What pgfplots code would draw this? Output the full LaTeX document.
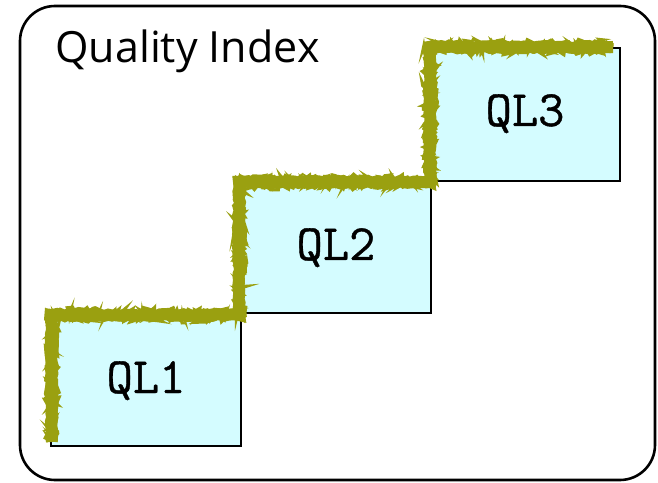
\documentclass[border=0pt]{standalone}
\usepackage{pgfplots}
\pgfplotsset{compat=1.18}
\usepackage{fontspec}
\newfontfamily\titlefont{Open Sans}
\newfontfamily\qlfont[FakeBold=0.8]{Latin Modern Mono}
\usetikzlibrary{decorations.pathmorphing}
\definecolor{boxfill}{HTML}{D4FCFF}
\definecolor{olivesk}{HTML}{9AA010}
\begin{document}
\begin{tikzpicture}
\pgfmathsetseed{7}
\begin{axis}[
  width=329pt, height=241pt, scale only axis,
  xmin=0, xmax=658, ymin=0, ymax=482,
  hide axis, clip=false,
]
\path (axis cs:0,0) rectangle (axis cs:658,482);
\draw[line width=1.3pt, rounded corners=17.5pt] (axis cs:20,2) rectangle (axis cs:655,476);
% boxes
\addplot[fill=boxfill, draw=black, line width=1pt] coordinates {(51,36) (241,36) (241,169) (51,169)} -- cycle;
\addplot[fill=boxfill, draw=black, line width=1pt] coordinates {(241,169) (431,169) (431,301) (241,301)} -- cycle;
\addplot[fill=boxfill, draw=black, line width=1pt] coordinates {(431,301) (620,301) (620,434) (431,434)} -- cycle;
% sketchy staircase
\addplot[olivesk, line width=6pt, line join=miter, decorate, decoration={random steps, segment length=2pt, amplitude=0.5pt}] coordinates {(52,40) (52,167) (239,167) (239,300) (430,300) (430,435) (613,435)};
\addplot[olivesk, line width=1.5pt, decorate, decoration={random steps, segment length=1.5pt, amplitude=2pt}] coordinates {(48,40) (48,171) (237,171) (237,304) (426,304) (426,439) (613,439)};
\addplot[olivesk, line width=1.5pt, decorate, decoration={random steps, segment length=1.5pt, amplitude=2pt}] coordinates {(56,40) (56,163) (243,163) (243,296) (434,296) (434,431) (611,431)};
\addplot[olivesk, line width=1.2pt, decorate, decoration={random steps, segment length=1.2pt, amplitude=2.5pt}] coordinates {(50,42) (50,169) (239,169) (239,302) (428,302) (428,437) (613,437)};
\addplot[olivesk, line width=1.2pt, decorate, decoration={random steps, segment length=1.2pt, amplitude=2.5pt}] coordinates {(54,42) (54,165) (241,165) (241,298) (432,298) (432,433) (611,433)};
% labels
\node[anchor=base west, inner sep=0pt, font=\titlefont\fontsize{21.5}{24}\selectfont] at (axis cs:55,419) {Quality Index};
\node[anchor=base, inner sep=0pt, font=\qlfont\fontsize{25.5}{28}\selectfont] at (axis cs:146,89) {QL1};
\node[anchor=base, inner sep=0pt, font=\qlfont\fontsize{25.5}{28}\selectfont] at (axis cs:336,222) {QL2};
\node[anchor=base, inner sep=0pt, font=\qlfont\fontsize{25.5}{28}\selectfont] at (axis cs:525,356) {QL3};
\end{axis}
\end{tikzpicture}
\end{document}
